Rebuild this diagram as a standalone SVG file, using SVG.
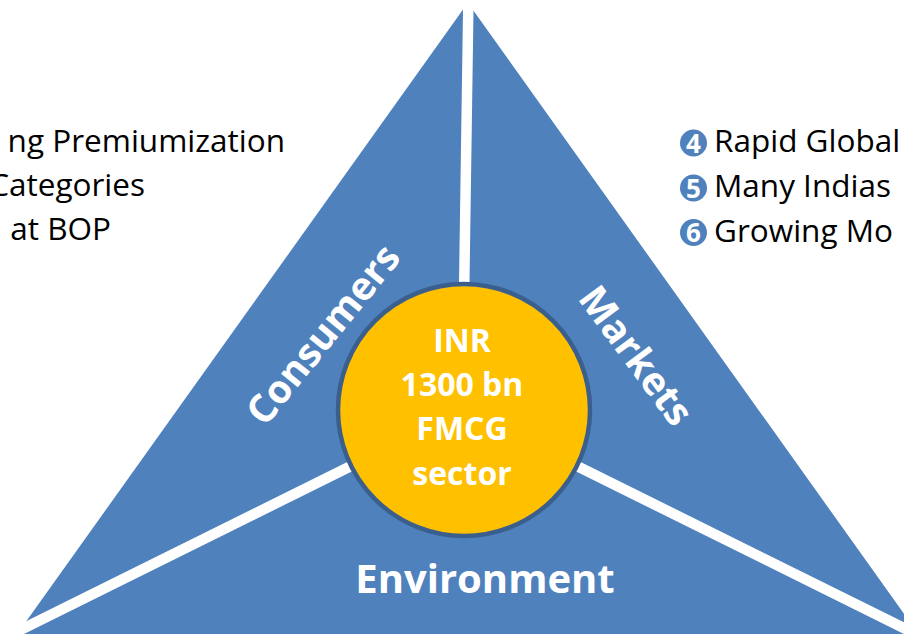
<svg xmlns="http://www.w3.org/2000/svg" width="904" height="634" viewBox="0 0 904 634">
  <style>
    .piece { fill: #4F81BD; }
    .gap { stroke: #FFFFFF; stroke-width: 10.5; stroke-linecap: butt; fill: none; }
    .lbl { font-family: "Open Sans", "Noto Sans", sans-serif; font-weight: bold; fill: #FFFFFF; }
    .side { font-family: "Open Sans", "Noto Sans", sans-serif; font-size: 31.5px; fill: #000000; }
    .num { fill: #4F81BD; }
    .numtxt { font-family: "Open Sans", "Noto Sans", sans-serif; font-weight: bold; font-size: 26px; fill: #FFFFFF; text-anchor: middle; }
  </style>
  <rect width="904" height="634" fill="#FFFFFF"/>

  <g id="triangle">
    <polygon class="piece" points="467.85,2.8 937,660 -1.4,660"/>
  </g>

  <g id="connectors">
    <line class="gap" x1="468.4" y1="0" x2="464" y2="300"/>
    <line class="gap" x1="464" y1="410" x2="-10" y2="645"/>
    <line class="gap" x1="464" y1="410" x2="944" y2="648"/>
  </g>

  <g id="consumers">
    <text class="lbl" font-size="39" text-anchor="middle" transform="translate(325,336) rotate(-51)" x="0" y="11">Consumers</text>
  </g>

  <g id="markets">
    <text class="lbl" font-size="39" text-anchor="middle" transform="translate(634,357) rotate(53.5)" x="0" y="11">Markets</text>
  </g>

  <g id="environment">
    <text class="lbl" font-size="40" text-anchor="middle" x="485" y="593">Environment</text>
  </g>

  <g id="center">
    <circle cx="464" cy="410" r="126" fill="#FFC000" stroke="#3B5F8D" stroke-width="4.5"/>
    <text class="lbl" font-size="32" text-anchor="middle" x="462" y="352">INR</text>
    <text class="lbl" font-size="32" text-anchor="middle" x="462" y="396">1300 bn</text>
    <text class="lbl" font-size="32" text-anchor="middle" x="462" y="440">FMCG</text>
    <text class="lbl" font-size="32" text-anchor="middle" x="462" y="485">sector</text>
  </g>

  <g id="consumer-points">
    <text class="side" text-anchor="end" x="285" y="152">ng Premiumization</text>
    <text class="side" text-anchor="end" x="145" y="196">Categories</text>
    <text class="side" text-anchor="end" x="111" y="240">at BOP</text>
  </g>

  <g id="market-points">
    <circle class="num" cx="693.5" cy="143" r="13.5"/>
    <text class="numtxt" x="693.5" y="152.5">4</text>
    <text class="side" x="714" y="152">Rapid Global</text>
    <circle class="num" cx="693.5" cy="188" r="13.5"/>
    <text class="numtxt" x="693.5" y="197.5">5</text>
    <text class="side" x="714" y="197">Many Indias</text>
    <circle class="num" cx="693.5" cy="232.5" r="13.5"/>
    <text class="numtxt" x="693.5" y="242">6</text>
    <text class="side" x="714" y="241.5">Growing Mo</text>
  </g>
</svg>
